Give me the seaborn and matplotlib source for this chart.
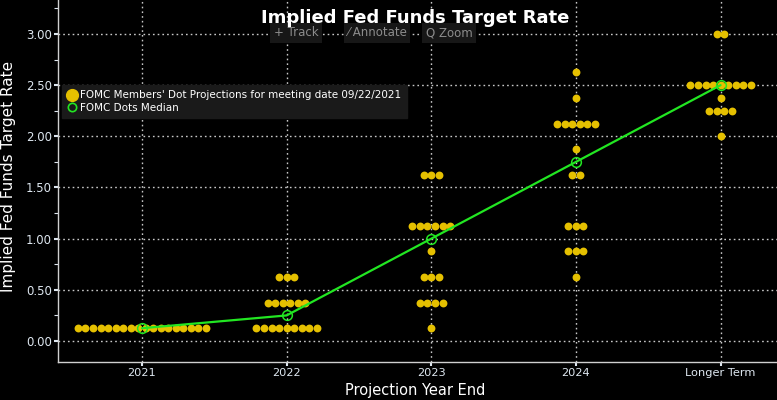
"""
Implied Fed Funds Target Rate - FOMC dot plot (meeting 09/22/2021).
"""

import numpy as np
import pandas as pd
import matplotlib
matplotlib.use("Agg")
import matplotlib.pyplot as plt
import seaborn as sns
from matplotlib.lines import Line2D
from matplotlib.ticker import MultipleLocator, FormatStrFormatter

# =====================================================================
# DATA
# =====================================================================
periods = ["2021", "2022", "2023", "2024", "Longer Term"]

levels_2021 = [0.125]
counts_2021 = [18]
levels_2022 = [0.125, 0.375, 0.625]
counts_2022 = [9, 6, 3]
levels_2023 = [0.125, 0.375, 0.625, 0.875, 1.125, 1.625]
counts_2023 = [1, 4, 3, 1, 6, 3]
levels_2024 = [0.625, 0.875, 1.125, 1.625, 1.875, 2.125, 2.375, 2.625]
counts_2024 = [1, 3, 3, 2, 1, 6, 1, 1]
levels_longer = [2.0, 2.25, 2.375, 2.5, 3.0]
counts_longer = [1, 4, 1, 9, 2]

all_levels = [levels_2021, levels_2022, levels_2023, levels_2024, levels_longer]
all_counts = [counts_2021, counts_2022, counts_2023, counts_2024, counts_longer]

# =====================================================================
# STYLE
# =====================================================================
GOLD = "#e5c000"
GREEN = "#22e622"
GRID = "#c8c8c8"
TICK = "#dde6ef"
DOT_STEP = 0.052  # horizontal spacing between stacked dots (x units)

sns.set_theme(style="dark")
plt.rcParams["font.family"] = ["DejaVu Sans"]
plt.rcParams["figure.facecolor"] = "black"
plt.rcParams["axes.facecolor"] = "black"

# one row per dot, spread horizontally around its year
rows = []
for i, (levels, counts) in enumerate(zip(all_levels, all_counts)):
    for lvl, n in zip(levels, counts):
        for off in (np.arange(n) - (n - 1) / 2) * DOT_STEP:
            rows.append({"pos": i, "x": i + off, "rate": lvl})
df = pd.DataFrame(rows)

fig = plt.figure(figsize=(7.77, 4.0), dpi=100)
ax = fig.add_axes([58 / 777, 38 / 400, 719 / 777, 362 / 400])

sns.scatterplot(data=df, x="x", y="rate", color=GOLD, s=32, linewidth=0,
                ax=ax, zorder=3, legend=False)
sns.lineplot(data=df, x="pos", y="rate", estimator="median", errorbar=None,
             color=GREEN, linewidth=1.6, marker="o", markersize=7,
             markerfacecolor="none", markeredgecolor=GREEN, markeredgewidth=1.1,
             ax=ax, zorder=4, legend=False)

ax.set_xlim(-0.58, 4.39)
ax.set_ylim(-0.205, 3.332)
ax.set_xticks(range(len(periods)))
ax.set_xticklabels(periods)
ax.set_yticks(np.arange(0, 3.01, 0.5))
ax.yaxis.set_major_formatter(FormatStrFormatter("%.2f"))
ax.yaxis.set_minor_locator(MultipleLocator(0.25))

ax.grid(True, which="major", color=GRID, linestyle=(0, (1.2, 2.2)), linewidth=1.0)
ax.set_axisbelow(True)
for side in ("top", "right"):
    ax.spines[side].set_visible(False)
for side in ("left", "bottom"):
    ax.spines[side].set_color("#d0d0d0")
    ax.spines[side].set_linewidth(1.0)

ax.tick_params(axis="both", which="major", colors=TICK, labelsize=8.5,
               length=3, width=1.5, direction="out", pad=1.5, left=True, bottom=True)
ax.tick_params(axis="x", which="major", labelsize=8.2, pad=1)
ax.tick_params(axis="y", which="minor", colors=TICK, length=3, width=0.8,
               direction="out", left=True)

ax.set_xlabel("")
ax.set_ylabel("")
fig.text(415 / 777, 1 - 390 / 400, "Projection Year End", ha="center", va="center",
         color="white", fontsize=10.5)
fig.text(9 / 777, 1 - 176 / 400, "Implied Fed Funds Target Rate", rotation=90,
         ha="center", va="center", color="white", fontsize=11)

# toolbar overlay
for label, xc in [("+ Track", 296), ("\u2044 Annotate", 377), ("Q Zoom", 449)]:
    fig.text(xc / 777, 1 - 33 / 400, label, ha="center", va="center",
             color="#8c8c8c", fontsize=8.5,
             bbox=dict(boxstyle="square,pad=0.3", fc="#171717", ec="none"))

fig.text(415 / 777, 1 - 18 / 400, "Implied Fed Funds Target Rate", ha="center",
         va="center", color="white", fontsize=13, fontweight="bold", zorder=10)

handles = [
    Line2D([], [], marker="o", linestyle="none", markerfacecolor=GOLD,
           markeredgecolor=GOLD, markersize=8.5),
    Line2D([], [], marker="o", linestyle="none", markerfacecolor="none",
           markeredgecolor=GREEN, markersize=6, markeredgewidth=1.2),
]
leg = ax.legend(handles, ["FOMC Members' Dot Projections for meeting date 09/22/2021",
                          "FOMC Dots Median"],
                loc="upper left", bbox_to_anchor=(0.005, 0.765), borderaxespad=0,
                frameon=True, facecolor="#1a1a1a", edgecolor="#1a1a1a", framealpha=1,
                fancybox=False, labelcolor="white", fontsize=7.5,
                handletextpad=0.3, borderpad=0.5, labelspacing=0.25, handlelength=1.0)

fig.savefig("out.png", dpi=100, facecolor="black")
